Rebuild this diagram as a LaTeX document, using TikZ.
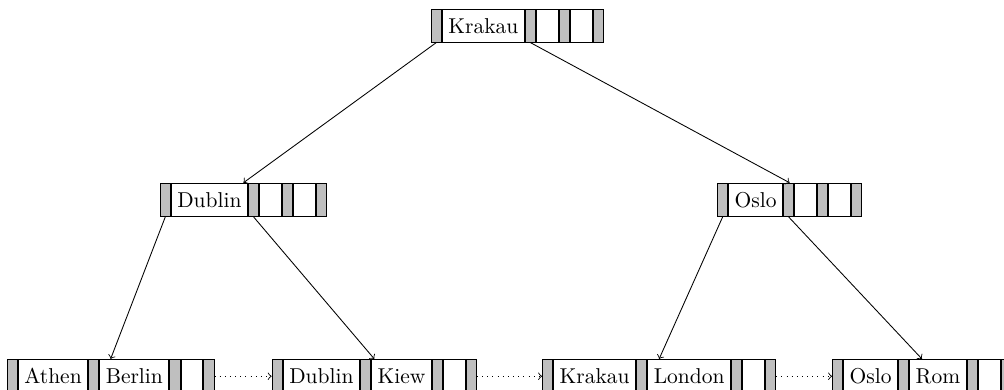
\documentclass[tikz,border=0pt]{standalone}
\usepackage{tikz}
\usetikzlibrary{positioning,fit}

\begin{document}
\begin{tikzpicture}[
		ptr/.style={draw=black, fill=black!25, inner sep=0pt, minimum width=4.8pt, minimum height=15.3pt},
		key/.style={draw=black, fill=white, inner xsep=2.8pt, minimum width=10.2pt, minimum height=15.3pt},
		frame/.style={inner sep=0pt},
		link/.style={->, dotted}]
	\useasboundingbox (0,0) rectangle (16.41,-6.36);

	%% root
	\node[ptr, anchor=west] (k1) at (7.04,-0.42) {};
	\node[key, right=0pt of k1] (k2) {Krakau};
	\node[ptr, right=0pt of k2] (k3) {};
	\node[key, right=0pt of k3] (k4) {};
	\node[ptr, right=0pt of k4] (k5) {};
	\node[key, right=0pt of k5] (k6) {};
	\node[ptr, right=0pt of k6] (k7) {};
	\node[frame, fit=(k1)(k7)] (k) {};

	%% inner nodes
	\node[ptr, anchor=west] (du1) at (2.61,-3.27) {};
	\node[key, right=0pt of du1] (du2) {Dublin};
	\node[ptr, right=0pt of du2] (du3) {};
	\node[key, right=0pt of du3] (du4) {};
	\node[ptr, right=0pt of du4] (du5) {};
	\node[key, right=0pt of du5] (du6) {};
	\node[ptr, right=0pt of du6] (du7) {};
	\node[frame, fit=(du1)(du7)] (du) {};

	\node[ptr, anchor=west] (os1) at (11.72,-3.27) {};
	\node[key, right=0pt of os1] (os2) {Oslo};
	\node[ptr, right=0pt of os2] (os3) {};
	\node[key, right=0pt of os3] (os4) {};
	\node[ptr, right=0pt of os4] (os5) {};
	\node[key, right=0pt of os5] (os6) {};
	\node[ptr, right=0pt of os6] (os7) {};
	\node[frame, fit=(os1)(os7)] (os) {};

	%% leaves
	\node[ptr, anchor=west] (ab1) at (0.11,-6.15) {};
	\node[key, right=0pt of ab1] (ab2) {Athen};
	\node[ptr, right=0pt of ab2] (ab3) {};
	\node[key, right=0pt of ab3] (ab4) {Berlin};
	\node[ptr, right=0pt of ab4] (ab5) {};
	\node[key, right=0pt of ab5] (ab6) {};
	\node[ptr, right=0pt of ab6] (ab7) {};
	\node[frame, fit=(ab1)(ab7)] (ab) {};

	\node[ptr, anchor=west] (dk1) at (4.44,-6.15) {};
	\node[key, right=0pt of dk1] (dk2) {Dublin};
	\node[ptr, right=0pt of dk2] (dk3) {};
	\node[key, right=0pt of dk3] (dk4) {Kiew};
	\node[ptr, right=0pt of dk4] (dk5) {};
	\node[key, right=0pt of dk5] (dk6) {};
	\node[ptr, right=0pt of dk6] (dk7) {};
	\node[frame, fit=(dk1)(dk7)] (dk) {};

	\node[ptr, anchor=west] (kl1) at (8.86,-6.15) {};
	\node[key, right=0pt of kl1] (kl2) {Krakau};
	\node[ptr, right=0pt of kl2] (kl3) {};
	\node[key, right=0pt of kl3] (kl4) {London};
	\node[ptr, right=0pt of kl4] (kl5) {};
	\node[key, right=0pt of kl5] (kl6) {};
	\node[ptr, right=0pt of kl6] (kl7) {};
	\node[frame, fit=(kl1)(kl7)] (kl) {};

	\node[ptr, anchor=west] (or1) at (13.60,-6.15) {};
	\node[key, right=0pt of or1] (or2) {Oslo};
	\node[ptr, right=0pt of or2] (or3) {};
	\node[key, right=0pt of or3] (or4) {Rom};
	\node[ptr, right=0pt of or4] (or5) {};
	\node[key, right=0pt of or5] (or6) {};
	\node[ptr, right=0pt of or6] (or7) {};
	\node[frame, fit=(or1)(or7)] (or) {};

	%% lines
	\draw[->] (k1.south) -- (du.north);
	\draw[->] (k3.south) -- (os.north);
	\draw[->] (du1.south) -- (ab.north);
	\draw[->] (du3.south) -- (dk.north);
	\draw[->] (os1.south) -- (kl.north);
	\draw[->] (os3.south) -- (or.north);

	%% leaf chain
	\draw[link] (ab7.east) -- (dk1.west);
	\draw[link] (dk7.east) -- (kl1.west);
	\draw[link] (kl7.east) -- (or1.west);
\end{tikzpicture}
\end{document}
